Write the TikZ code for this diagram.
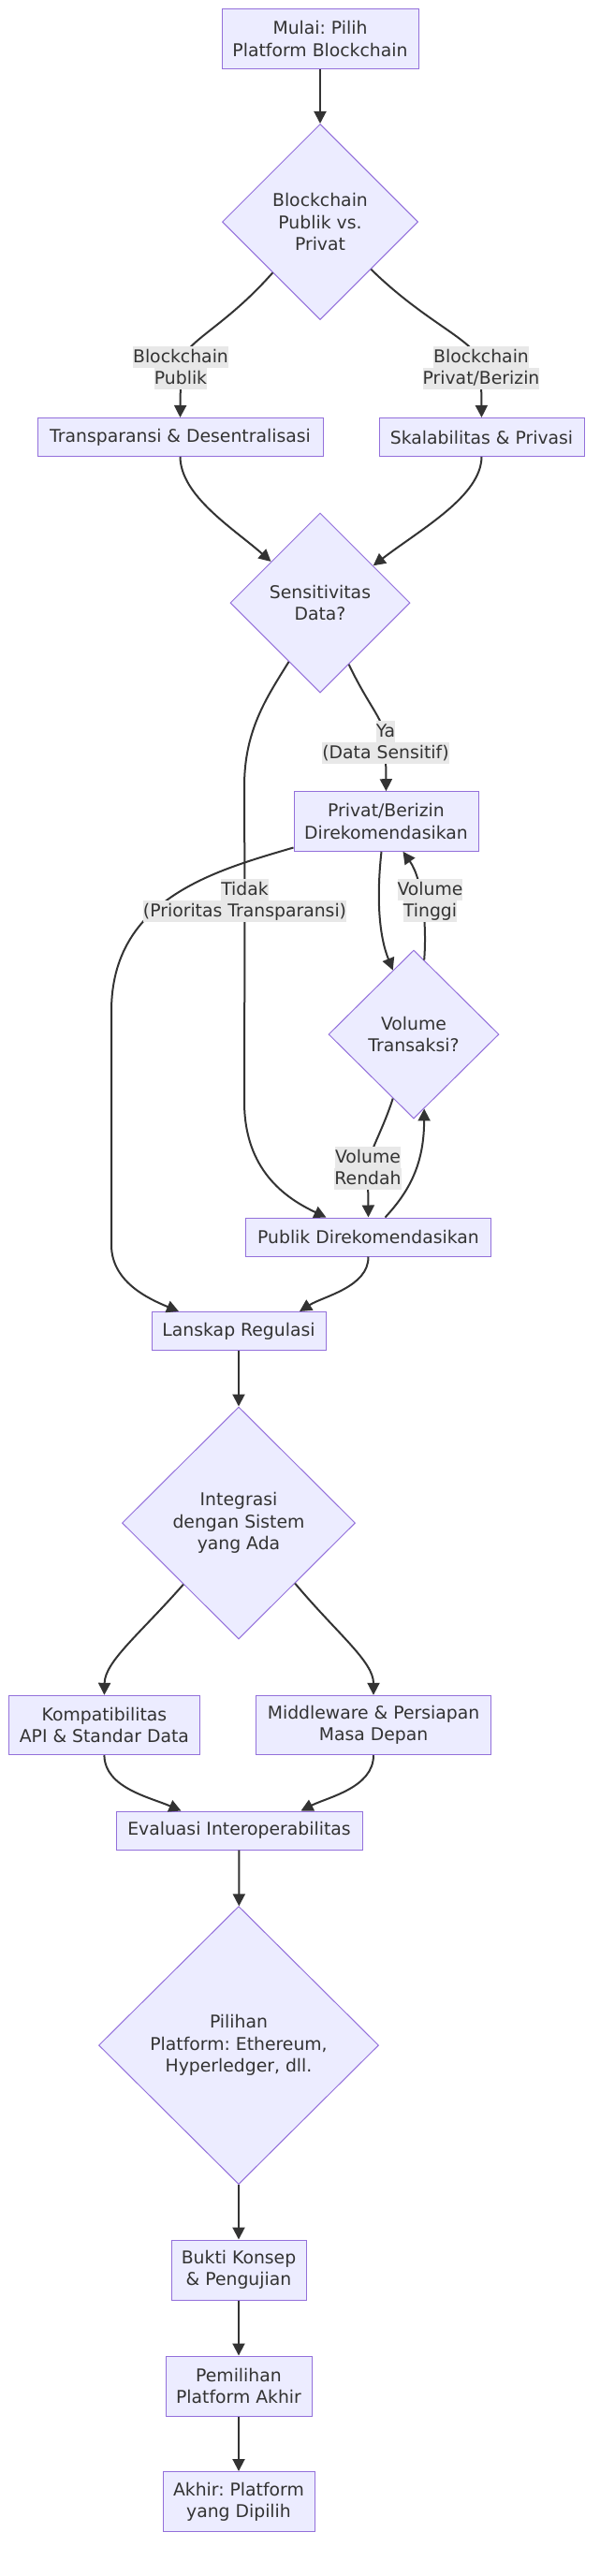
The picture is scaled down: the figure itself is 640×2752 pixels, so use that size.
\documentclass[tikz,border=0pt]{standalone}
\usepackage{fontspec}
\setmainfont{DejaVu Sans}
\usetikzlibrary{shapes.geometric,arrows.meta}
\definecolor{nfill}{HTML}{ECECFF}
\definecolor{ndraw}{HTML}{9370DB}
\definecolor{edgec}{HTML}{333333}
\definecolor{lblbg}{HTML}{E8E8E8}
\frenchspacing
\newcommand{\elbl}[1]{{\setlength{\fboxsep}{0pt}\colorbox{lblbg}{\rule[-5.5pt]{0pt}{23.3pt}#1}}}
\newcommand{\dfont}{\fontsize{18.8}{23.3}\selectfont}
\begin{document}
\begin{tikzpicture}[x=1pt,y=-1pt,
  box/.style={rectangle, draw=ndraw, fill=nfill, line width=1pt, inner sep=0pt, align=center, text=edgec, font=\dfont},
  dia/.style={diamond, aspect=1, draw=ndraw, fill=nfill, line width=1pt, inner sep=0pt, align=center, text=edgec, font=\dfont},
  conn/.style={draw=edgec, line width=2pt, -{Triangle[length=13pt,width=13pt]}},
  elabel/.style={inner sep=0pt, align=center, text=edgec, font=\dfont}
]
\useasboundingbox[fill=white] (0,0) rectangle (640,2752);

% nodes
\node[box, minimum width=210pt, minimum height=63.6pt] (start) at (342,41.4) {Mulai: Pilih\\Platform Blockchain};
\node[dia, minimum width=209pt, minimum height=209pt] (d1) at (342,237) {Blockchain\\Publik vs.\\Privat};
\node[box, minimum width=305pt, minimum height=41pt] (trans) at (192.5,467) {Transparansi \& Desentralisasi};
\node[box, minimum width=219pt, minimum height=41pt] (skal) at (514.5,467) {Skalabilitas \& Privasi};
\node[dia, minimum width=192pt, minimum height=192pt] (d2) at (342,644) {Sensitivitas\\Data?};
\node[box, minimum width=197pt, minimum height=63.6pt] (priv) at (412.5,877.5) {Privat/Berizin\\Direkomendasikan};
\node[dia, minimum width=182pt, minimum height=180pt] (d3) at (442,1105) {Volume\\Transaksi?};
\node[box, minimum width=262pt, minimum height=41pt] (pub) at (393.5,1321.5) {Publik Direkomendasikan};
\node[box, minimum width=186pt, minimum height=41pt] (lans) at (255,1422) {Lanskap Regulasi};
\node[dia, minimum width=249pt, minimum height=248pt] (d4) at (255,1627) {Integrasi\\dengan Sistem\\yang Ada};
\node[box, minimum width=204pt, minimum height=63.4pt] (komp) at (111.4,1843) {Kompatibilitas\\API \& Standar Data};
\node[box, minimum width=251pt, minimum height=63.4pt] (mid) at (399,1843) {Middleware \& Persiapan\\Masa Depan};
\node[box, minimum width=263pt, minimum height=41pt] (eval) at (255.5,1955.5) {Evaluasi Interoperabilitas};
\node[dia, minimum width=299pt, minimum height=297pt] (d5) at (255,2185) {Pilihan\\Platform: Ethereum,\\Hyperledger, dll.};
\node[box, minimum width=144pt, minimum height=64pt] (bukti) at (255,2425) {Bukti Konsep\\\& Pengujian};
\node[box, minimum width=156pt, minimum height=64pt] (pemi) at (255,2549) {Pemilihan\\Platform Akhir};
\node[box, minimum width=162pt, minimum height=64pt] (akhir) at (255,2672.5) {Akhir: Platform\\yang Dipilih};

% label positions
\coordinate (lA) at (193,393);
\coordinate (lB) at (514,393);
\coordinate (lC) at (412,793);
\coordinate (lD) at (261.5,962);
\coordinate (lE) at (459.5,962);
\coordinate (lF) at (393,1248);

% connectors
\draw[conn] (start) -- (d1);
\draw[conn] (d1.227) .. controls (235,355) and (193,365) .. (lA) -- (trans.north);
\draw[conn] (d1.-43) .. controls (460,350) and (514,365) .. (lB) -- (skal.north);
\draw[conn] (trans.south) .. controls (193,530) and (250,565) .. (d2.140);
\draw[conn] (skal.south) .. controls (514,530) and (450,565) .. (d2.35);
\draw[conn] (d2.-65) .. controls (395,757) and (412,770) .. (lC) -- (priv.north);
\draw[conn] (d2.242) .. controls (285,745) and (261,780) .. (261,840) -- (lD) -- (261,1177) .. controls (261,1250) and (305,1280) .. ([xshift=-45pt]pub.north);
\draw[conn] ([yshift=-28pt]priv.west) .. controls (230,930) and (119,960) .. (119,1080) -- (119,1330) .. controls (119,1370) and (160,1388) .. ([xshift=-64pt]lans.north);
\draw[conn] ([xshift=-5pt]priv.south) .. controls (402,960) and (405,1000) .. (d3.108);
\draw[conn] (d3.82) .. controls (456,990) and (452,940) .. ([xshift=18pt]priv.south);
\draw[conn] (d3.252) .. controls (408,1210) and (394,1230) .. (lF) -- (pub.north);
\draw[conn] ([xshift=18pt]pub.north) .. controls (440,1270) and (453,1240) .. (d3.-82);
\draw[conn] (pub.south) .. controls (394,1375) and (345,1385) .. ([xshift=65pt]lans.north);
\draw[conn] (lans) -- (d4);
\draw[conn] (d4.228) .. controls (150,1745) and (112,1775) .. (komp.north);
\draw[conn] (d4.-47) .. controls (360,1745) and (399,1775) .. (mid.north);
\draw[conn] (komp.south) .. controls (112,1910) and (160,1920) .. ([xshift=-62pt]eval.north);
\draw[conn] (mid.south) .. controls (399,1910) and (350,1920) .. ([xshift=66pt]eval.north);
\draw[conn] (eval) -- (d5);
\draw[conn] (d5) -- (bukti);
\draw[conn] (bukti) -- (pemi);
\draw[conn] (pemi) -- (akhir);

% edge labels
\node[elabel] (tA) at (lA) {\elbl{Blockchain}\\\elbl{Publik}};
\node[elabel] (tB) at (lB) {\elbl{Blockchain}\\\elbl{Privat/Berizin}};
\node[elabel] (tC) at (lC) {\elbl{Ya}\\\elbl{(Data Sensitif)}};
\node[elabel] (tD) at (lD) {\elbl{Tidak}\\\elbl{(Prioritas Transparansi)}};
\node[elabel] (tE) at (lE) {\elbl{Volume}\\\elbl{Tinggi}};
\node[elabel] (tF) at (lF) {\elbl{Volume}\\\elbl{Rendah}};
\end{tikzpicture}
\end{document}
